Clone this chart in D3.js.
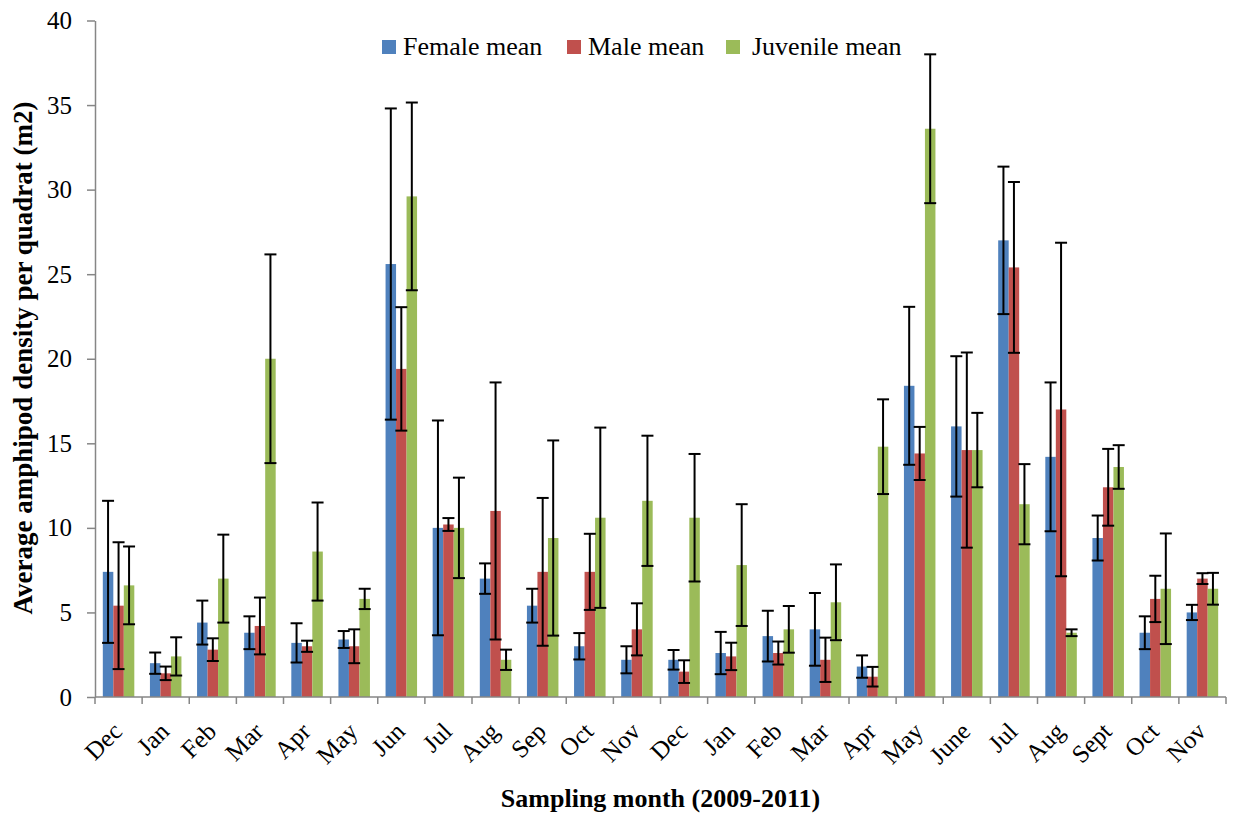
<!DOCTYPE html>
<html>
<head>
<meta charset="utf-8">
<script src="https://cdn.jsdelivr.net/npm/d3@7"></script>
<style>
  html, body { margin: 0; padding: 0; background: #fff; }
  svg text { font-family: "Liberation Serif", "Times New Roman", serif; }
</style>
</head>
<body>
<svg id="chart" width="1234" height="817"></svg>
<script>
// Sampling months, Dec 2009 through Nov 2011
const months = ["Dec","Jan","Feb","Mar","Apr","May","Jun","Jul","Aug","Sep","Oct","Nov",
                "Dec","Jan","Feb","Mar","Apr","May","June","Jul","Aug","Sept","Oct","Nov"];

// Mean densities per quadrat (m2) and their error margins
const femaleMean = [7.4,2.0,4.4,3.8,3.2,3.4,25.6,10.0,7.0,5.4,3.0,2.2,2.2,2.6,3.6,4.0,1.8,18.4,16.0,27.0,14.2,9.4,3.8,5.0];
const femaleErr  = [4.2,0.63,1.3,0.97,1.16,0.5,9.2,6.35,0.9,1.0,0.78,0.8,0.58,1.25,1.5,2.15,0.66,4.67,4.15,4.36,4.4,1.33,0.97,0.45];
const maleMean   = [5.4,1.4,2.8,4.2,3.0,3.0,19.4,10.2,11.0,7.4,7.4,4.0,1.5,2.4,2.6,2.2,1.2,14.4,14.6,25.4,17.0,12.4,5.8,7.0];
const maleErr    = [3.75,0.4,0.67,1.68,0.33,1.0,3.65,0.38,7.6,4.37,2.25,1.54,0.67,0.81,0.68,1.31,0.58,1.57,5.77,5.05,9.86,2.27,1.37,0.32];
const juvMean    = [6.6,2.4,7.0,20.0,8.6,5.8,29.6,10.0,2.2,9.4,10.6,11.6,10.6,7.8,4.0,5.6,14.8,33.6,14.6,11.4,3.8,13.6,6.4,6.4];
const juvErr     = [2.3,1.13,2.6,6.17,2.9,0.6,5.55,2.97,0.6,5.77,5.33,3.85,3.77,3.6,1.38,2.24,2.8,4.4,2.2,2.37,0.2,1.29,3.27,0.94];

const seriesNames = ["Female mean", "Male mean", "Juvenile mean"];
const seriesColors = ["#4F81BD", "#C0504D", "#9BBB59"];
const yTicks = [0, 5, 10, 15, 20, 25, 30, 35, 40];

const series = [
  { name: seriesNames[0], color: seriesColors[0], mean: femaleMean, err: femaleErr },
  { name: seriesNames[1], color: seriesColors[1], mean: maleMean,   err: maleErr },
  { name: seriesNames[2], color: seriesColors[2], mean: juvMean,    err: juvErr }
];

const SERIF = '"Liberation Serif", "Times New Roman", serif';
const svg = d3.select("#chart");
const plot = { left: 95, right: 1226, top: 20.5, bottom: 697 };

const x0 = d3.scaleBand()
  .domain(d3.range(months.length))
  .range([plot.left, plot.right])
  .paddingInner(0).paddingOuter(0);

const x1 = d3.scaleBand()
  .domain(seriesNames)
  .range([0, x0.bandwidth()])
  .paddingInner(0).paddingOuter(0.744);

const y = d3.scaleLinear().domain([0, 40]).range([plot.bottom, plot.top]);

// Bars
const groups = svg.append("g").selectAll("g")
  .data(d3.range(months.length))
  .join("g")
  .attr("transform", i => `translate(${x0(i)},0)`);

groups.selectAll("rect")
  .data(i => series.map(s => ({ s, v: s.mean[i] })))
  .join("rect")
  .attr("x", d => x1(d.s.name))
  .attr("y", d => y(d.v))
  .attr("width", x1.bandwidth())
  .attr("height", d => y(0) - y(d.v))
  .attr("fill", d => d.s.color);

// Error bars
const capHalf = 6;
const errG = groups.selectAll("g.err")
  .data(i => series.map(s => ({ s, v: s.mean[i], e: s.err[i] })))
  .join("g")
  .attr("class", "err")
  .attr("stroke", "#000")
  .attr("stroke-width", 2)
  .attr("transform", d => `translate(${x1(d.s.name) + x1.bandwidth() / 2},0)`);

errG.append("line")
  .attr("x1", 0).attr("x2", 0)
  .attr("y1", d => y(d.v + d.e))
  .attr("y2", d => y(Math.max(0, d.v - d.e)));
errG.append("line")
  .attr("x1", -capHalf).attr("x2", capHalf)
  .attr("y1", d => y(d.v + d.e)).attr("y2", d => y(d.v + d.e));
errG.append("line")
  .attr("x1", -capHalf).attr("x2", capHalf)
  .attr("y1", d => y(Math.max(0, d.v - d.e))).attr("y2", d => y(Math.max(0, d.v - d.e)));

// Y axis
const yAxis = svg.append("g")
  .attr("transform", `translate(${plot.left},0)`)
  .call(d3.axisLeft(y).tickValues(yTicks).tickSize(8).tickPadding(15).tickSizeOuter(0));
yAxis.attr("font-family", null);
yAxis.select(".domain").attr("stroke", "#868686").attr("stroke-width", 1.5);
yAxis.selectAll(".tick line").attr("stroke", "#868686").attr("stroke-width", 1.5);
yAxis.selectAll(".tick text")
  .style("font-family", SERIF)
  .style("font-size", "25px")
  .attr("fill", "#000");

// X axis: ticks sit on category boundaries
const boundaries = d3.range(months.length + 1).map(i => plot.left + i * x0.step());
const xAxisG = svg.append("g");
xAxisG.append("line")
  .attr("x1", plot.left).attr("x2", plot.right)
  .attr("y1", y(0)).attr("y2", y(0))
  .attr("stroke", "#868686").attr("stroke-width", 1.5);
xAxisG.selectAll("line.tk")
  .data(boundaries)
  .join("line")
  .attr("class", "tk")
  .attr("x1", d => d).attr("x2", d => d)
  .attr("y1", y(0)).attr("y2", y(0) + 7)
  .attr("stroke", "#868686").attr("stroke-width", 1.5);

xAxisG.selectAll("text")
  .data(d3.range(months.length))
  .join("text")
  .attr("transform", i => `translate(${x0(i) + x0.bandwidth() / 2 + 5},${y(0) + 36}) rotate(-45)`)
  .attr("text-anchor", "end")
  .style("font-family", SERIF)
  .style("font-size", "25px")
  .attr("fill", "#000")
  .text(i => months[i]);

// Axis titles
svg.append("text")
  .attr("transform", `translate(32,358) rotate(-90)`)
  .attr("text-anchor", "middle")
  .style("font-family", SERIF)
  .style("font-weight", "bold")
  .style("font-size", "27px")
  .text("Average amphipod density per quadrat (m2)");

svg.append("text")
  .attr("x", (plot.left + plot.right) / 2)
  .attr("y", 807)
  .attr("text-anchor", "middle")
  .style("font-family", SERIF)
  .style("font-weight", "bold")
  .style("font-size", "26px")
  .text("Sampling month (2009-2011)");

// Legend
const legendX = [382, 567, 726];
const legend = svg.append("g");
series.forEach((s, k) => {
  legend.append("rect")
    .attr("x", legendX[k]).attr("y", 40)
    .attr("width", 14).attr("height", 14)
    .attr("fill", s.color);
  legend.append("text")
    .attr("x", legendX[k] + (k === 2 ? 26 : 21)).attr("y", 55)
    .style("font-family", SERIF)
    .style("font-size", "26px")
    .attr("fill", "#000")
    .text(s.name);
});
</script>
</body>
</html>
